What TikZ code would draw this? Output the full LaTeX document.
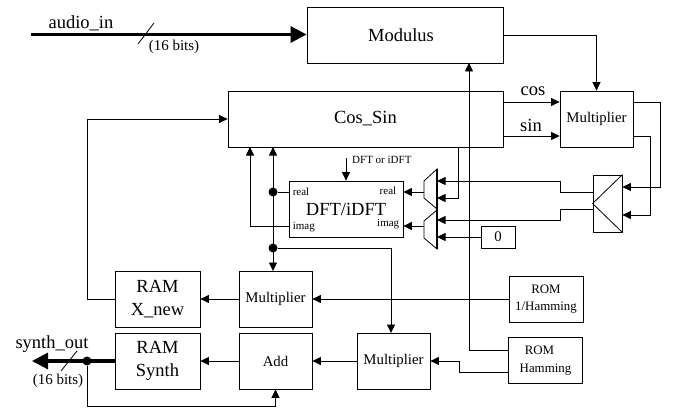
\documentclass[tikz,border=0pt]{standalone}
\usepackage{fontspec}
\setmainfont{Liberation Serif}
\usetikzlibrary{arrows.meta,positioning,calc}
\begin{document}
\begin{tikzpicture}[x=1pt,y=-1pt,font=\fontsize{18.5}{23}\selectfont,
  box/.style={draw,line width=0.8pt,minimum width=#1,minimum height=56pt,align=center,inner sep=0pt},
  midbox/.style={box=73pt,font=\fontsize{14.8}{18}\selectfont},
  rombox/.style={draw,line width=0.8pt,minimum width=74pt,minimum height=46pt,align=center,inner sep=0pt,font=\fontsize{12.9}{17.5}\selectfont},
  wire/.style={line width=0.8pt,-{Triangle[length=8.5pt,width=8pt]}},
  plainwire/.style={line width=0.8pt},
  bus/.style={line width=3.2pt,-{Triangle[length=16pt,width=16pt]}},
  dot/.style={circle,fill=black,inner sep=0pt,minimum size=9pt},
  small/.style={font=\fontsize{15}{18}\selectfont,inner sep=0pt},
  tiny/.style={font=\fontsize{11}{13}\selectfont,inner sep=0pt}
]
  \useasboundingbox (0,0) rectangle (691,412);

  % big blocks
  \node[box=196pt] at (405,35) (modulus) {};
  \node[inner sep=0pt] at ([xshift=-4pt]modulus.center) (moduluslbl) {Modulus};
  \node[box=275pt] at (365.5,119) (cossin) {Cos\_Sin};
  \node[midbox] at (596.5,119) (mulcs) {Multiplier};
  \node[box=114pt] at (346,209) (dft) {DFT/iDFT};
  \node[tiny,anchor=west] at ([xshift=4pt,yshift=17pt]dft.west) (realin) {real};
  \node[tiny,anchor=west] at ([xshift=4pt,yshift=-18pt]dft.west) (imagin) {imag};
  \node[tiny,anchor=east] at ([xshift=-7pt,yshift=18pt]dft.east) (realout) {real};
  \node[tiny,anchor=east] at ([xshift=-4pt,yshift=-15pt]dft.east) (imagout) {imag};
  \node[box=29pt,minimum height=57pt] at (607.5,203.5) (split) {};
  \draw[plainwire] (split.north east) -- (split.west) -- (split.south east);
  \node[box=34pt,minimum height=22pt,font=\fontsize{14.8}{18}\selectfont] at (498,237) (zero) {0};

  % muxes
  \draw[plainwire,fill=white] (437,169) -- (424,181) -- (424,198) -- (437,209) -- cycle;
  \draw[plainwire,fill=white] (437,210) -- (424,221) -- (424,238) -- (437,249) -- cycle;
  \draw[line width=1.4pt] (437,169) -- (437,249);
  \coordinate (muxa) at (424,192);
  \coordinate (muxb) at (424,226);

  % lower row
  \node[box=85pt] at (157.5,299) (ramx) {RAM\\X\_new};
  \node[box=85pt] at (157.5,361) (ramsyn) {RAM\\Synth};
  \node[midbox] at (275.5,299) (mula) {Multiplier};
  \node[midbox] at (275.5,361) (add) {Add};
  \node[midbox] at (393.5,361) (mulb) {Multiplier};
  \node[rombox] at (546,299) (romi) {ROM\\1/Hamming};
  \node[rombox] at (545.5,360.5) (romh) {\hspace*{-12pt}ROM\\Hamming};

  % audio in
  \coordinate (audio) at (31,34.5);
  \draw[bus] (audio) -- (audio -| modulus.west);
  \node[inner sep=0pt] at (81,23) (audiolbl) {audio\_in};
  \node[small] at (174,47) (bitsin) {(16 bits)};
  \draw[plainwire] (138,44) -- (154,23);

  % modulus to multiplier
  \draw[wire] (modulus.east) -| (mulcs.north);
  \draw[wire] (cossin.east |- 0,102) -- (mulcs.west |- 0,102);
  \draw[wire] (cossin.east |- 0,136) -- (mulcs.west |- 0,136);
  \node[inner sep=0pt] at (533,91) (coslbl) {cos};
  \node[inner sep=0pt] at (531,125) (sinlbl) {sin};

  % multiplier to splitter
  \draw[wire] (mulcs.east |- 0,102) -- (660,102) |- (split.east |- 0,187);
  \draw[wire] (mulcs.east |- 0,136) -- (650,136) |- (split.east |- 0,215);
  \draw[wire] (split.west |- 0,192) -- (560,192) |- (437,181);
  \draw[wire] (split.west |- 0,209) -- (560,209) |- (437,220);
  \draw[wire] (458,147) |- (437,198);
  \draw[wire] (zero.west) -- (437,237);
  \draw[wire] (muxa) -- (muxa -| dft.east);
  \draw[wire] (muxb) -- (muxb -| dft.east);

  % dft connections
  \coordinate (dftsel) at (346,158);
  \draw[wire] (dftsel) -- (dftsel |- dft.north);
  \node[tiny,anchor=west] at (352,160) (dftlbl) {DFT or iDFT};
  \node[dot] at (273,192) (dotreal) {};
  \node[dot] at (273,248) (dotmul) {};
  \draw[plainwire] (dotreal) -- (dotreal -| dft.west);
  \draw[line width=0.8pt,{Triangle[length=8.5pt,width=8pt]}-{Triangle[length=8.5pt,width=8pt]}] (273,147) -- (273,271);
  \draw[wire] (dft.west |- 0,226) -- (250,226) -- (250,147);
  \draw[wire] (dotmul) -| (391,333);

  % ram and multipliers
  \draw[wire] (mula.west) -- (ramx.east);
  \draw[wire] (ramx.west) -- (87,299) |- (cossin.west);
  \draw[wire] (romi.west) -- (mula.east);
  \draw[wire] (mulb.west) -- (add.east);
  \draw[wire] (add.west) -- (ramsyn.east);
  \draw[wire] (romh.west |- 0,350) -| (469,63);
  \draw[wire] (romh.west |- 0,372) -| (459,361) -- (mulb.east);

  % synth out
  \draw[bus] (ramsyn.west) -- (32,361);
  \node[dot] at (87,361) (dotsyn) {};
  \draw[wire] (dotsyn) -- (87,406) -| (add.south);
  \draw[plainwire] (61,371) -- (77,351);
  \node[inner sep=0pt] at (52,344) (synthlbl) {synth\_out};
  \node[small] at (58,381) (bitsout) {(16 bits)};
\end{tikzpicture}
\end{document}
